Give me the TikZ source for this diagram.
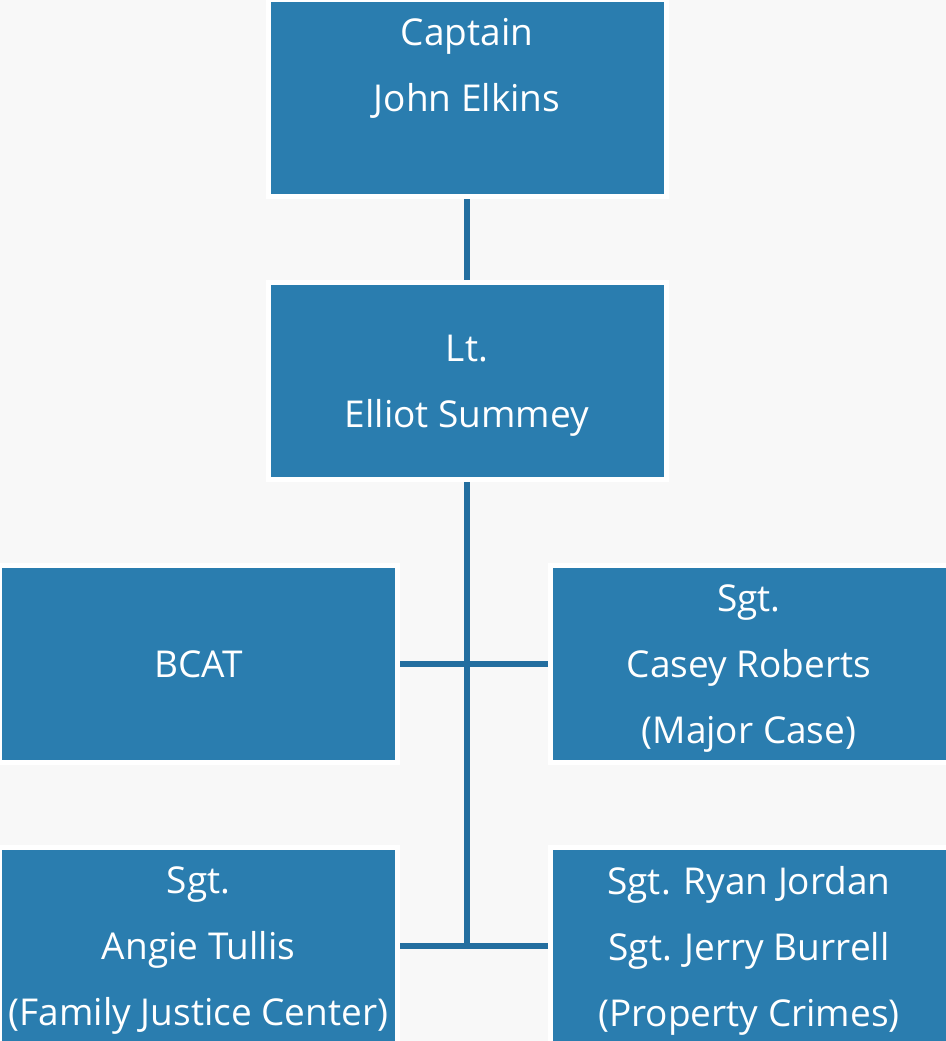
\documentclass[tikz,border=0pt]{standalone}
\usepackage{amsmath}
\usepackage{fontspec}
\setmainfont{Open Sans}
\usetikzlibrary{positioning}
\definecolor{boxblue}{HTML}{2A7DAF}
\definecolor{lineblue}{HTML}{236E9F}
\definecolor{paper}{HTML}{F8F8F8}
\tikzstyle{block} = [rectangle, fill=boxblue, draw=white, line width=2.5pt, minimum width=199pt, minimum height=98.5pt, inner sep=0pt, text=white, align=center, font=\fontsize{18.5}{33}\selectfont]
\tikzstyle{link} = [lineblue, line width=3pt]

\begin{document}
\begin{tikzpicture}
	\fill [paper] (0,0) rectangle (473pt,-520.5pt);
	\useasboundingbox (0,0) rectangle (473pt,-520.5pt);
	\node (Captain) [block] at (233.5pt,-49pt) {Captain\\John Elkins\\\mbox{}};
	\node (Lt) [block, below = 40.5pt of Captain] {Lt.\\\smash[b]{Elliot Summey}};
	\node (BCAT) [block, below = 40.5pt of Lt, xshift=-134.25pt] {BCAT};
	\node (Casey) [block, below = 40.5pt of Lt, xshift=141pt] {Sgt.\\Casey Roberts\\\smash[b]{(Major Case)}};
	\node (Angie) [block, below = 40pt of BCAT] {Sgt.\\Angie Tullis\\\smash[b]{(Family Justice Center)}};
	\node (Property) [block, below = 40pt of Casey] {Sgt. Ryan Jordan\\Sgt. Jerry Burrell\\\smash[b]{(Property Crimes)}};
	\coordinate (TrunkEnd) at (Lt.south |- Angie.east);
	\draw [link] (Captain) -- (Lt);
	\draw [link, shorten >=-1.5pt] (Lt.south) -- (TrunkEnd);
	\draw [link] (BCAT.east) -- (Casey.west);
	\draw [link] (Angie.east) -- (Property.west);
\end{tikzpicture}
\end{document}
